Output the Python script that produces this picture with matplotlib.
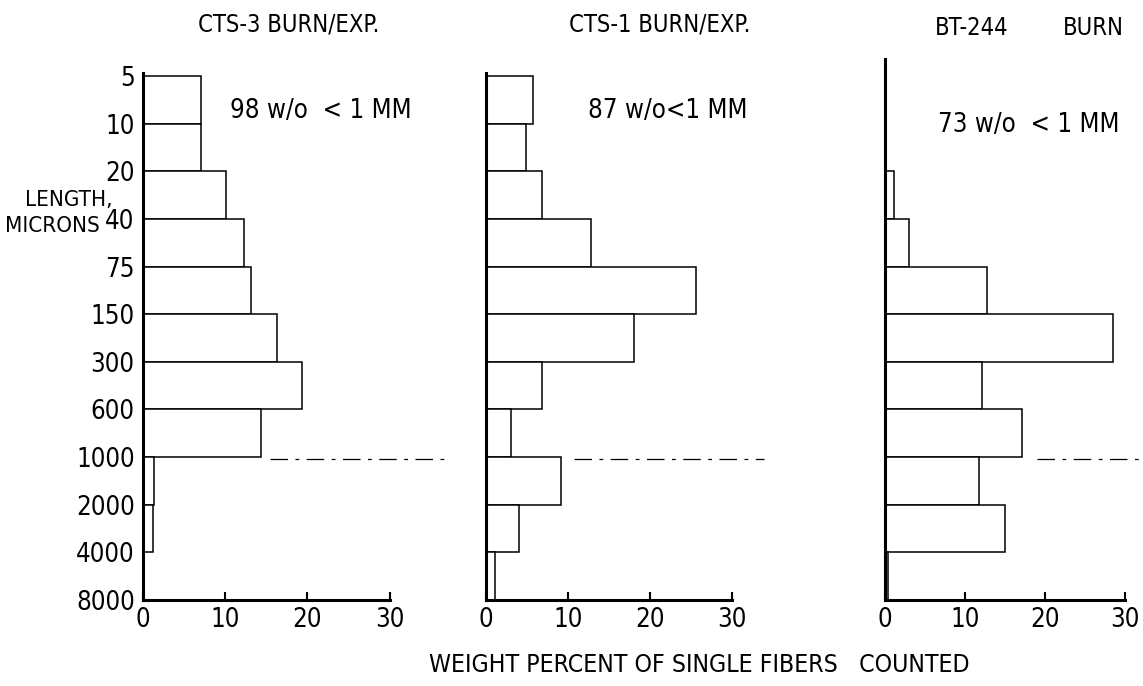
import matplotlib
matplotlib.use("Agg")
import matplotlib.pyplot as plt
import numpy as np

plt.rcParams['font.family'] = ['DejaVu Sans']
plt.rcParams['font.stretch'] = 'condensed'

# length bin edges, microns (top to bottom)
edges = ["5", "10", "20", "40", "75", "150", "300", "600", "1000", "2000", "4000", "8000"]

# weight percent in each bin (between consecutive edges)
cts3 = [7.1, 7.1, 10.1, 12.3, 13.1, 16.3, 19.3, 14.3, 1.3, 1.2, 0.0]
cts1 = [5.7, 4.9, 6.9, 12.8, 25.7, 18.1, 6.9, 3.0, 9.2, 4.0, 1.1]
bt244 = [0.0, 0.0, 1.1, 3.0, 12.8, 28.5, 12.2, 17.1, 11.8, 15.0, 0.4]

titles = ["CTS-3 BURN/EXP.", "CTS-1 BURN/EXP."]
notes = ["98 w/o  < 1 MM", "87 w/o<1 MM", "73 w/o  < 1 MM"]
xticks = [0, 10, 20, 30]

W, H = 1143, 686
fig = plt.figure(figsize=(W / 100, H / 100), dpi=100)

# pixel geometry: (x of 0, x of 30)
panels = [(143, 392), (486, 734), (885, 1127)]
y_top_edge, y_bottom = 76, 600
bin_px = (y_bottom - y_top_edge) / 11.0
extra = 0.4
y_axes_top = y_top_edge - extra * bin_px

series = [cts3, cts1, bt244]
spine_top = [-0.07, -0.07, -0.35]
dash_from = [15.5, 10.7, 19.0]
dash_to = [37.0, 34.0, 32.0]
note_xy = [(0.35, 0.90), (0.41, 0.90), (0.22, 0.875)]

fs = 18.5
for i, (x0, x1) in enumerate(panels):
    ax = fig.add_axes([x0 / W, 1 - y_bottom / H, (x1 - x0) / W, (y_bottom - y_axes_top) / H])
    vals = series[i]
    idx = np.arange(len(vals))
    ax.barh(idx + 0.5, vals, height=1.0, left=0, color='white',
            edgecolor='black', linewidth=1.1)
    ax.set_xlim(0, 30.3)
    ax.set_ylim(11, -extra)
    for s in ['top', 'right']:
        ax.spines[s].set_visible(False)
    ax.spines['left'].set_linewidth(2.2)
    ax.spines['bottom'].set_linewidth(2.2)
    ax.spines['left'].set_bounds(11, spine_top[i])
    ax.spines['bottom'].set_bounds(0, 30)
    ax.set_xticks(xticks)
    ax.set_xticklabels([str(t) for t in xticks], fontsize=fs)
    ax.tick_params(axis='x', direction='in', length=6, width=1.5, pad=5)
    if i == 0:
        ax.set_yticks(np.arange(len(edges)))
        ax.set_yticklabels(edges, fontsize=fs)
        ax.tick_params(axis='y', length=0, pad=6)
    else:
        ax.set_yticks([])
    ax.patch.set_alpha(0)
    # 1 mm marker
    ax.plot([dash_from[i], dash_to[i]], [8.05, 8.05], color='black', linewidth=0.9,
            linestyle=(0, (14, 6, 3, 6)), clip_on=False)
    ax.text(note_xy[i][0], note_xy[i][1], notes[i], transform=ax.transAxes,
            fontsize=18.5, ha='left', va='center')

fig.text(289 / W, 1 - 24 / H, titles[0], fontsize=17, ha='center', va='center')
fig.text(660 / W, 1 - 24 / H, titles[1], fontsize=17, ha='center', va='center')
fig.text(972 / W, 1 - 28 / H, "BT-244", fontsize=17, ha='center', va='center')
fig.text(1093 / W, 1 - 28 / H, "BURN", fontsize=17, ha='center', va='center')
fig.text(113 / W, 1 - 200 / H, "LENGTH,", fontsize=16, ha='right', va='center')
fig.text(100 / W, 1 - 226 / H, "MICRONS", fontsize=16, ha='right', va='center')
fig.text(699 / W, 1 - 665 / H, "WEIGHT PERCENT OF SINGLE FIBERS   COUNTED",
         fontsize=17.8, ha='center', va='center')

fig.savefig("out.png", dpi=100, facecolor='white')
